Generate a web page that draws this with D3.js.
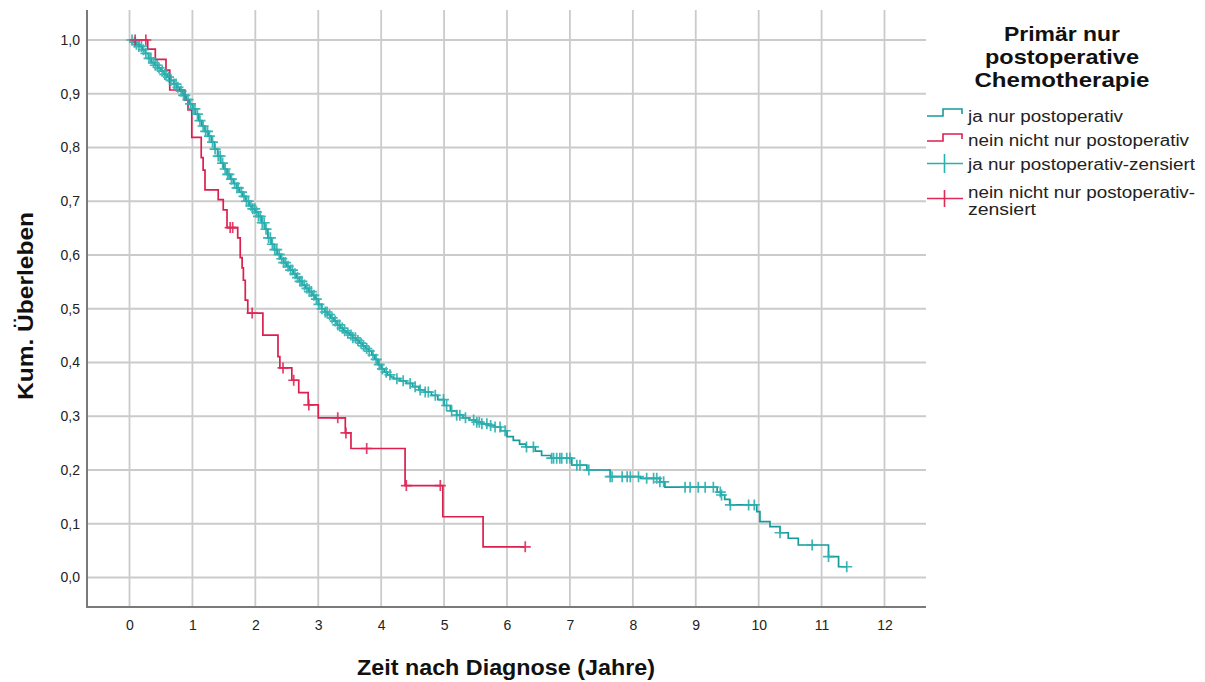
<!DOCTYPE html>
<html><head><meta charset="utf-8">
<script src="https://cdnjs.cloudflare.com/ajax/libs/d3/7.8.5/d3.min.js"></script>
<style>
html,body{margin:0;padding:0;background:#fff;}
svg{display:block;font-family:"Liberation Sans",Arial,sans-serif;}
</style></head>
<body>
<svg id="chart" width="1205" height="682"></svg>
<script>
// ---- data ----
const xTicks = [0,1,2,3,4,5,6,7,8,9,10,11,12];
const yTicks = [0,0.1,0.2,0.3,0.4,0.5,0.6,0.7,0.8,0.9,1.0];
const seriesNames = ["ja nur postoperativ","nein nicht nur postoperativ","ja nur postoperativ-zensiert","nein nicht nur postoperativ-zensiert"];

// teal: [time, survival after event]
const tealSteps = [[0.05,.996],[0.10,.992],[0.15,.988],[0.20,.982],[0.25,.975],[0.30,.966],[0.35,.958],[0.40,.953],[0.45,.948],[0.50,.942],[0.55,.936],[0.60,.931],[0.65,.925],[0.70,.918],[0.75,.912],[0.80,.905],[0.85,.897],[0.90,.889],[0.95,.881],[1.00,.872],[1.05,.862],[1.10,.850],[1.15,.840],[1.20,.830],[1.25,.821],[1.30,.810],[1.35,.797],[1.40,.784],[1.45,.771],[1.50,.760],[1.55,.750],[1.60,.741],[1.65,.733],[1.70,.725],[1.75,.717],[1.80,.709],[1.85,.700],[1.90,.692],[1.95,.686],[2.00,.680],[2.05,.672],[2.10,.660],[2.15,.648],[2.20,.632],[2.25,.620],[2.30,.610],[2.35,.601],[2.40,.593],[2.45,.586],[2.50,.579],[2.55,.572],[2.60,.565],[2.65,.558],[2.70,.551],[2.75,.544],[2.80,.538],[2.85,.532],[2.90,.525],[2.95,.518],[3.00,.508],[3.05,.500],[3.10,.494],[3.15,.489],[3.20,.483],[3.25,.477],[3.30,.470],[3.35,.464],[3.40,.459],[3.45,.455],[3.50,.451],[3.55,.446],[3.60,.441],[3.65,.436],[3.70,.431],[3.75,.426],[3.80,.421],[3.85,.414],[3.90,.406],[3.95,.396],[4.00,.388],[4.05,.382],[4.10,.377],[4.15,.373],[4.20,.370],[4.30,.366],[4.40,.361],[4.50,.355],[4.60,.349],[4.70,.345],[4.80,.339],[4.90,.331],[5.00,.320],[5.10,.310],[5.20,.302],[5.30,.297],[5.40,.293],[5.50,.289],[5.60,.286],[5.70,.283],[5.80,.280],[5.90,.273],[6.00,.262],[6.10,.255],[6.20,.248],[6.30,.243],[6.45,.235],[6.55,.227],[6.70,.222],[7.03,.209],[7.27,.200],[7.64,.1875],[8.12,.1845],[8.43,.178],[8.51,.168],[9.34,.159],[9.40,.1535],[9.46,.1455],[9.54,.135],[9.97,.1224],[10.02,.104],[10.18,.0945],[10.34,.0833],[10.47,.073],[10.63,.0605],[11.11,.039],[11.27,.020]];
const tealEnd = 11.40;
const tealCensored = [0.04,0.08,0.11,0.15,0.19,0.22,0.26,0.31,0.34,0.38,0.41,0.44,0.47,0.52,0.56,0.58,0.62,0.66,0.71,0.74,0.77,0.82,0.86,0.88,0.93,0.97,1.01,1.04,1.08,1.12,1.17,1.21,1.24,1.27,1.32,1.36,1.41,1.44,1.48,1.52,1.56,1.58,1.62,1.67,1.71,1.73,1.78,1.82,1.86,1.89,1.93,1.96,1.99,2.02,2.05,2.08,2.11,2.14,2.17,2.21,2.24,2.27,2.31,2.34,2.38,2.42,2.45,2.48,2.52,2.56,2.59,2.63,2.67,2.71,2.74,2.78,2.82,2.86,2.89,2.93,2.97,3.01,3.06,3.11,3.14,3.18,3.22,3.27,3.31,3.34,3.38,3.42,3.47,3.52,3.55,3.59,3.63,3.68,3.72,3.77,3.81,3.87,3.92,3.97,4.02,4.08,4.14,4.25,4.35,4.46,4.54,4.62,4.70,4.75,4.86,4.99,5.04,5.12,5.20,5.25,5.34,5.47,5.52,5.56,5.60,5.68,5.74,5.81,5.89,5.97,6.31,6.42,6.71,6.74,6.79,6.84,6.87,6.95,7.00,7.11,7.16,7.30,7.64,7.67,7.83,7.91,7.96,8.09,8.22,8.33,8.38,8.43,8.49,8.83,8.91,9.04,9.15,9.28,9.39,9.41,9.55,9.84,9.93,10.34,10.85,11.11,11.40];

// red
const redSteps = [[0.29,.983],[0.41,.964],[0.58,.944],[0.64,.907],[0.88,.888],[0.93,.870],[0.99,.819],[1.14,.781],[1.17,.758],[1.20,.721],[1.41,.703],[1.49,.684],[1.55,.651],[1.72,.632],[1.76,.595],[1.79,.576],[1.81,.553],[1.84,.516],[1.88,.492],[2.12,.451],[2.36,.411],[2.39,.390],[2.58,.367],[2.69,.344],[2.84,.321],[3.00,.297],[3.43,.269],[3.52,.240],[4.38,.171],[4.98,.113],[5.62,.057]];
const redEnd = 6.29;
const redCensored = [0.09,0.26,1.60,1.64,1.95,2.44,2.61,2.85,3.31,3.44,3.77,4.40,4.94,6.29];

// ---- drawing ----
const svg = d3.select("#chart");
const x = d3.scaleLinear().domain([0,12]).range([129.5,884.5]);
const y = d3.scaleLinear().domain([0,1]).range([577.5,40]);
const plotL = 87, plotR = 926, plotT = 10, plotB = 607;

const TEAL = "#179a9a", TEAL_C = "#2bb0b0";
const RED = "#dc1f4f", RED_C = "#e02a58";

// grid
svg.append("g").selectAll("line").data(xTicks).join("line")
  .attr("x1", d=>x(d)).attr("x2", d=>x(d)).attr("y1", plotT).attr("y2", plotB)
  .attr("stroke","#cbcbcb").attr("stroke-width",1.8);
svg.append("g").selectAll("line").data(yTicks).join("line")
  .attr("x1", plotL).attr("x2", plotR).attr("y1", d=>y(d)).attr("y2", d=>y(d))
  .attr("stroke","#cbcbcb").attr("stroke-width",1.8);

// axes
const fmt = d => d3.format(".1f")(d).replace(".", ",");
const yAxis = svg.append("g").attr("transform",`translate(${plotL},0)`)
  .call(d3.axisLeft(y).tickValues(yTicks).tickFormat(fmt).tickSize(0).tickPadding(7));
yAxis.select(".domain").remove();
const xAxis = svg.append("g").attr("transform",`translate(0,${plotB})`)
  .call(d3.axisBottom(x).tickValues(xTicks).tickFormat(d3.format("d")).tickSize(0).tickPadding(13));
xAxis.select(".domain").remove();
svg.selectAll(".tick text").attr("font-size",14).attr("fill","#222").attr("font-family","Liberation Sans, Arial, sans-serif");

svg.append("line").attr("x1",plotL).attr("x2",plotL).attr("y1",plotT).attr("y2",plotB+1)
  .attr("stroke","#7a7a7a").attr("stroke-width",2);
svg.append("line").attr("x1",plotL-1).attr("x2",plotR).attr("y1",plotB).attr("y2",plotB)
  .attr("stroke","#7a7a7a").attr("stroke-width",2);

// axis titles
svg.append("text").attr("x",506).attr("y",675).attr("text-anchor","middle")
  .attr("font-size",22).attr("font-weight","bold").attr("fill","#111")
  .attr("textLength",298).attr("lengthAdjust","spacingAndGlyphs")
  .text("Zeit nach Diagnose (Jahre)");
svg.append("text").attr("transform","translate(33,306) rotate(-90)").attr("text-anchor","middle")
  .attr("font-size",22).attr("font-weight","bold").attr("fill","#111")
  .attr("textLength",188).attr("lengthAdjust","spacingAndGlyphs")
  .text("Kum. Überleben");

// curves
function stepPoints(steps, end){
  const pts = [[0,1], ...steps];
  pts.push([end, steps[steps.length-1][1]]);
  return pts;
}
function survAt(steps, t){
  let s = 1;
  for (const [tt, v] of steps){ if (tt <= t) s = v; else break; }
  return s;
}
const line = d3.line().x(d=>x(d[0])).y(d=>y(d[1])).curve(d3.curveStepAfter);

svg.append("path").datum(stepPoints(tealSteps, tealEnd)).attr("d", line)
  .attr("fill","none").attr("stroke",TEAL).attr("stroke-width",1.7);
svg.append("path").datum(stepPoints(redSteps, redEnd)).attr("d", line)
  .attr("fill","none").attr("stroke",RED).attr("stroke-width",1.7);

function drawCensors(times, steps, color){
  const g = svg.append("g").attr("stroke",color).attr("stroke-width",1.7).attr("opacity",0.9);
  const pts = times.map(t=>[t, survAt(steps,t)]);
  g.selectAll("path").data(pts).join("path")
    .attr("d", d=>{const cx=x(d[0]), cy=y(d[1]); return `M${cx-5.5},${cy}H${cx+5.5}M${cx},${cy-5.5}V${cy+5.5}`;});
}
drawCensors(tealCensored, tealSteps, TEAL_C);
drawCensors(redCensored, redSteps, RED_C);

// legend
const lg = svg.append("g");
const titleLines = ["Primär nur","postoperative","Chemotherapie"];
const titleLens = [116,154,175];
lg.selectAll("text.t").data(titleLines).join("text").attr("class","t")
  .attr("x",1062).attr("y",(d,i)=>41+i*23).attr("text-anchor","middle")
  .attr("font-size",21).attr("font-weight","bold").attr("fill","#111")
  .attr("textLength",(d,i)=>titleLens[i]).attr("lengthAdjust","spacingAndGlyphs")
  .text(d=>d);

const itemLines = [["ja nur postoperativ"],["nein nicht nur postoperativ"],["ja nur postoperativ-zensiert"],["nein nicht nur postoperativ-","zensiert"]];
const itemLens = [[155],[221],[227],[227,68]];
const itemY = [122,146,170,198];
itemLines.forEach((lines,i)=>{
  lines.forEach((t,j)=>{
    lg.append("text").attr("x",968).attr("y",itemY[i]+j*17).attr("font-size",16).attr("fill","#222")
      .attr("textLength",itemLens[i][j]).attr("lengthAdjust","spacingAndGlyphs").text(t);
  });
});
// legend symbols
lg.append("path").attr("d","M927,116H943V109H962V114").attr("fill","none").attr("stroke",TEAL).attr("stroke-width",1.6);
lg.append("path").attr("d","M927,141H943V134H962V139").attr("fill","none").attr("stroke",RED).attr("stroke-width",1.6);
lg.append("path").attr("d","M927,163.5H963M944.5,154V173").attr("fill","none").attr("stroke",TEAL_C).attr("stroke-width",1.6);
lg.append("path").attr("d","M927,198.5H963M944.5,190V207").attr("fill","none").attr("stroke",RED_C).attr("stroke-width",1.6);
</script>
</body></html>
